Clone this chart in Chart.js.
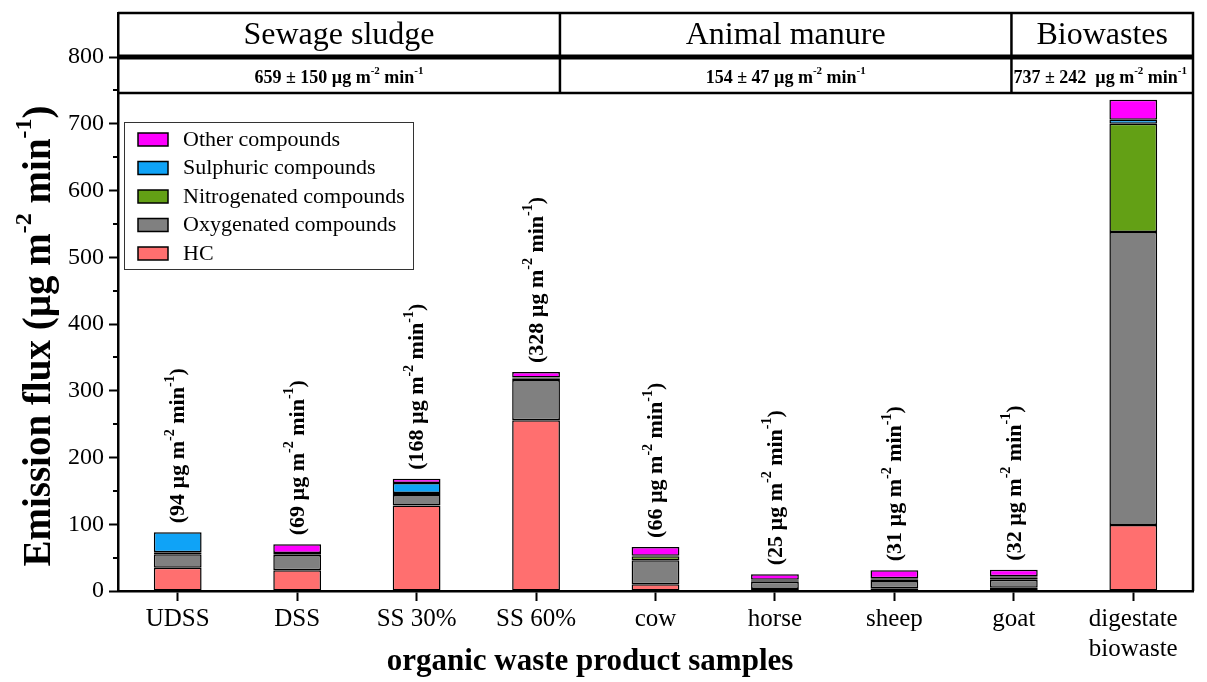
<!DOCTYPE html>
<html>
<head>
<meta charset="utf-8">
<script src="https://cdn.jsdelivr.net/npm/chart.js@4.4.1/dist/chart.umd.min.js"></script>
<style>
html,body{margin:0;padding:0;background:#fff;}
#wrap{width:1207px;height:682px;position:relative;}
</style>
</head>
<body>
<div id="wrap"><canvas id="chart"></canvas></div>
<script>
// samples and stacked emission fluxes (µg m-2 min-1)
const categories=["UDSS","DSS","SS 30%","SS 60%","cow","horse","sheep","goat",["digestate","biowaste"]];
const hc=[35,31,128,256,10,3,4,5,99];
const oxygenated=[20,23,16,60,36,11,11,12,439];
const nitrogenated=[3,1,3,2,6,2,2,3,162];
const sulphuric=[30,2,15,2,1,1,2,2,6];
const other=[0,13,6,8,13,8,12,10,30];
const totalLabels=[94,69,168,328,66,25,31,32,null];

const groupNames=["Sewage sludge","Animal manure","Biowastes"];
const groupTotals=["659 ± 150","154 ± 47","737 ± 242 "];
const yTicks=[0,100,200,300,400,500,600,700,800];

const FONT="'Liberation Serif','Times New Roman',serif";
Chart.defaults.font.family=FONT;
Chart.defaults.color="#000";

// text with superscripts: parts are [text, isSup]
function richWidth(ctx,parts,size,weight){
let w=0;
parts.forEach(p=>{
ctx.font=weight+" "+(p[1]?Math.round(size*0.62):size)+"px "+FONT;
w+=ctx.measureText(p[0]).width;
});
return w;
}

function drawRich(ctx,parts,x,y,size,weight){
let cx=x;
parts.forEach(p=>{
const s=p[1]?Math.round(size*0.62):size;
ctx.font=weight+" "+s+"px "+FONT;
ctx.fillText(p[0],cx,p[1]?y-size*0.38:y);
cx+=ctx.measureText(p[0]).width;
});
}

function unitParts(prefix,suffix){
return [[prefix+"µg m",false],["-2",true],[" min",false],["-1",true],[suffix||"",false]];
}

const framePlugin={
id:"frame",
afterDatasetsDraw(chart){
const ctx=chart.ctx;
const top=chart.getDatasetMeta(chart.data.datasets.length-1);

// rotated total labels above the bars
ctx.save();
ctx.fillStyle="#000";
ctx.textBaseline="middle";
totalLabels.forEach((v,i)=>{
if(v==null) return;
const bar=top.data[i];
ctx.save();
ctx.translate(bar.x+1,bar.y-9);
ctx.rotate(-Math.PI/2);
drawRich(ctx,unitParts("("+v+" ",")"),0,0,22,"bold");
ctx.restore();
});
ctx.restore();
},
afterDraw(chart){
const ctx=chart.ctx;
const a=chart.chartArea;
const x=chart.scales.x;
const y=chart.scales.y;
const step=x.getPixelForValue(1)-x.getPixelForValue(0);
const x0=x.getPixelForValue(0);
const edges=[a.left,x0+3.2*step,x0+6.98*step,a.right];
const yTop=a.top;
const yMid=y.getPixelForValue(800);
const yBot=y.getPixelForValue(746);

ctx.save();
ctx.strokeStyle="#000";
ctx.fillStyle="#000";

// minor y ticks
ctx.lineWidth=2;
for(let v=50;v<800;v+=100){
const py=Math.round(y.getPixelForValue(v));
ctx.beginPath();
ctx.moveTo(a.left,py);
ctx.lineTo(a.left-5,py);
ctx.stroke();
}

// frame
ctx.lineWidth=2.5;
ctx.beginPath();
ctx.moveTo(a.left,yTop);
ctx.lineTo(a.right,yTop);
ctx.lineTo(a.right,a.bottom);
ctx.stroke();

ctx.beginPath();
ctx.moveTo(a.left,yBot);
ctx.lineTo(a.right,yBot);
ctx.stroke();

ctx.lineWidth=5;
ctx.beginPath();
ctx.moveTo(a.left,yMid);
ctx.lineTo(a.right,yMid);
ctx.stroke();

ctx.lineWidth=2.5;
for(let k=1;k<edges.length-1;k++){
ctx.beginPath();
ctx.moveTo(edges[k],yTop);
ctx.lineTo(edges[k],yBot);
ctx.stroke();
}

// header texts
ctx.textBaseline="middle";
groupNames.forEach((name,k)=>{
const cx=(edges[k]+edges[k+1])/2;
ctx.font="32px "+FONT;
ctx.textAlign="center";
ctx.fillText(name,cx,(yTop+yMid)/2+1);

ctx.textAlign="left";
const parts=unitParts(groupTotals[k]+" ");
const w=richWidth(ctx,parts,18,"bold");
let sx=cx-w/2;
if(k==groupNames.length-1) sx=edges[k]+2;
drawRich(ctx,parts,sx,(yMid+yBot)/2+3,18,"bold");
});

// legend
const lx=a.left+6, ly=122, lw=289, lh=147;
ctx.lineWidth=1;
ctx.strokeStyle="#333";
ctx.strokeRect(lx+0.5,ly+0.5,lw,lh);
const ds=chart.data.datasets.slice().reverse();
ds.forEach((d,k)=>{
const ry=ly+17+k*28.5;
ctx.fillStyle=d.backgroundColor;
ctx.fillRect(lx+14,ry-6,30,13);
ctx.strokeStyle="#000";
ctx.lineWidth=1.5;
ctx.strokeRect(lx+14,ry-6,30,13);
ctx.fillStyle="#000";
ctx.font="22px "+FONT;
ctx.textAlign="left";
ctx.fillText(d.label,lx+59,ry+1);
});

// axis titles
ctx.textAlign="left";
ctx.save();
ctx.translate(40,336);
ctx.rotate(-Math.PI/2);
const tp=[["Emission flux (µg m",false],["-2",true],[" min",false],["-1",true],[")",false]];
const tw=richWidth(ctx,tp,39,"bold");
drawRich(ctx,tp,-tw/2,0,39,"bold");
ctx.restore();

ctx.textAlign="center";
ctx.font="bold 31px "+FONT;
ctx.fillText("organic waste product samples",590,662);
ctx.restore();
}
};

const bars=[
{label:"HC",data:hc,backgroundColor:"#ff6f6f"},
{label:"Oxygenated compounds",data:oxygenated,backgroundColor:"#808080"},
{label:"Nitrogenated compounds",data:nitrogenated,backgroundColor:"#63a015"},
{label:"Sulphuric compounds",data:sulphuric,backgroundColor:"#0fa3f7"},
{label:"Other compounds",data:other,backgroundColor:"#ff00ff"}
];
bars.forEach(b=>{
b.borderColor="#000";
b.borderWidth=1.5;
b.borderSkipped=false;
b.barPercentage=0.4;
b.categoryPercentage=1;
});

new Chart(document.getElementById("chart"),{
type:"bar",
data:{labels:categories,datasets:bars},
plugins:[framePlugin],
options:{
responsive:true,
maintainAspectRatio:false,
animation:false,
layout:{padding:{top:13,right:14,left:0,bottom:0}},
plugins:{legend:{display:false},tooltip:{enabled:false}},
scales:{
x:{
stacked:true,
afterFit(s){s.height=91;s.paddingLeft=0;s.paddingRight=0;},
grid:{display:true,offset:false,drawOnChartArea:false,drawTicks:true,tickLength:10,tickWidth:2,color:"#000"},
border:{display:true,width:2.5,color:"#000"},
ticks:{font:{size:25},padding:3,maxRotation:0,autoSkip:false}
},
y:{
stacked:true,
min:0,
max:866,
afterFit(s){s.width=118;s.paddingTop=0;s.paddingBottom=0;},
afterBuildTicks(s){s.ticks=yTicks.map(v=>({value:v}));},
grid:{drawOnChartArea:false,drawTicks:true,tickLength:9,tickWidth:2,color:"#000"},
border:{display:true,width:2.5,color:"#000"},
ticks:{font:{size:24},padding:5}
}
}
}
});
</script>
</body>
</html>
